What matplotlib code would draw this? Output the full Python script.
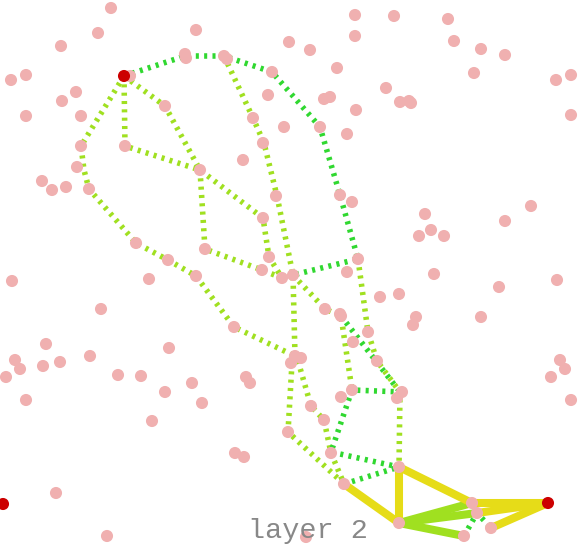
import matplotlib
matplotlib.use("Agg")
import matplotlib.pyplot as plt

W, H = 581, 545

# pink nodes (pixel coords)
node_x = [111, 98, 61, 196, 26, 11, 76, 62, 26, 81, 81, 125, 77, 165, 185, 186, 224, 227,
          272, 268, 253, 263, 284, 243, 200, 42, 52, 66, 89, 276, 289, 130,
          355, 394, 448, 355, 454, 481, 505, 310, 337, 474, 556, 571, 386, 324, 330,
          400, 409, 411, 356, 571, 320, 347, 340, 352,
          12, 149, 136, 168, 196, 234, 205, 263, 269, 262, 282, 101, 46, 169, 15, 20,
          43, 60, 90, 6, 118, 141, 192, 246, 250,
          425, 431, 419, 444, 505, 531, 358, 347, 293, 434, 557, 499, 380, 399, 416,
          413, 481, 325, 340, 341, 368, 353, 377, 295, 301, 291, 560, 565, 551,
          26, 165, 202, 152, 235, 244, 56, 107, 311, 324, 288, 352, 341, 397, 402,
          331, 344, 399, 399, 472, 477, 491, 464, 571, 306]
node_y = [8, 33, 46, 30, 75, 80, 92, 101, 116, 116, 146, 146, 167, 106, 54, 58, 56, 59,
          72, 95, 118, 143, 127, 160, 170, 181, 190, 187, 189, 196, 42, 76,
          15, 16, 19, 36, 41, 49, 55, 50, 68, 73, 80, 75, 88, 99, 97,
          102, 101, 103, 110, 115, 127, 134, 195, 202,
          281, 279, 243, 260, 276, 327, 249, 218, 257, 270, 278, 309, 344, 348, 360, 369,
          366, 362, 356, 377, 375, 376, 383, 377, 383,
          214, 230, 236, 236, 221, 206, 259, 272, 275, 274, 280, 287, 297, 294, 317,
          325, 317, 309, 314, 316, 332, 342, 361, 356, 358, 363, 360, 369, 377,
          400, 392, 403, 421, 453, 457, 493, 536, 406, 420, 432, 390, 397, 398, 392,
          453, 484, 467, 523, 503, 513, 528, 536, 400, 537]

# red terminal nodes
red_x = [124, 3, 548]
red_y = [76, 504, 503]

# dotted edges, dark green
dark_paths = [
    [(124, 76), (185, 56), (224, 56), (272, 72), (320, 127), (340, 195), (358, 259), (293, 275)],
    [(341, 316), (400, 392)],
    [(402, 392), (352, 390), (331, 452), (399, 467)],
    [(344, 484), (399, 467)],
    [(464, 536), (477, 513), (491, 528)],
]

# dotted edges, light green
light_paths = [
    [(124, 76), (81, 146), (84, 170), (89, 189), (136, 243), (168, 260), (196, 276), (234, 327), (297, 357)],
    [(124, 76), (125, 146), (200, 170)],
    [(124, 76), (165, 106), (200, 170), (263, 218), (269, 257), (282, 278)],
    [(200, 170), (205, 249), (262, 270), (282, 278)],
    [(224, 56), (253, 118), (264, 143), (277, 196), (293, 275), (295, 356)],
    [(293, 275), (325, 309), (341, 316), (352, 390)],
    [(358, 259), (368, 332), (377, 361), (400, 392), (399, 467)],
    [(298, 361), (311, 406), (324, 420), (331, 453), (344, 484)],
    [(292, 363), (288, 432), (344, 484)],
]

# solid edges
yellow_edges = [
    [(344, 484), (399, 523)],
    [(399, 467), (399, 523)],
    [(399, 467), (472, 503)],
    [(472, 503), (548, 503)],
    [(477, 513), (548, 503)],
    [(491, 528), (548, 503)],
]
green_edges = [
    [(399, 523), (472, 503)],
    [(399, 523), (477, 513)],
    [(399, 523), (464, 536)],
]

fig = plt.figure(figsize=(W / 100, H / 100), dpi=100)
ax = fig.add_axes([0, 0, 1, 1])
ax.set_xlim(0, W)
ax.set_ylim(H, 0)
ax.axis("off")

for p in green_edges:
    xs, ys = zip(*p)
    ax.plot(xs, ys, color="#a0e020", lw=5.8, solid_capstyle="butt", zorder=2)
for p in yellow_edges:
    xs, ys = zip(*p)
    ax.plot(xs, ys, color="#e6dc18", lw=5.8, solid_capstyle="butt", zorder=2)

for p in light_paths:
    xs, ys = zip(*p)
    ax.plot(xs, ys, color="#a0e020", lw=4.0, linestyle=(0, (0.55, 0.95)),
            dash_capstyle="butt", zorder=3)
for p in dark_paths:
    xs, ys = zip(*p)
    ax.plot(xs, ys, color="#30d830", lw=4.0, linestyle=(0, (0.55, 0.95)),
            dash_capstyle="butt", zorder=3)

ax.scatter(node_x, node_y, s=76, color="#f0b0b0", edgecolors="none", zorder=4)
ax.scatter(red_x, red_y, s=76, color="#cc0000", edgecolors="none", zorder=5)

ax.text(308, 538, "layer 2", family="Liberation Mono", fontsize=20.5,
        color="#888888", ha="center", va="baseline", zorder=6)

fig.savefig("out.png", dpi=100)
